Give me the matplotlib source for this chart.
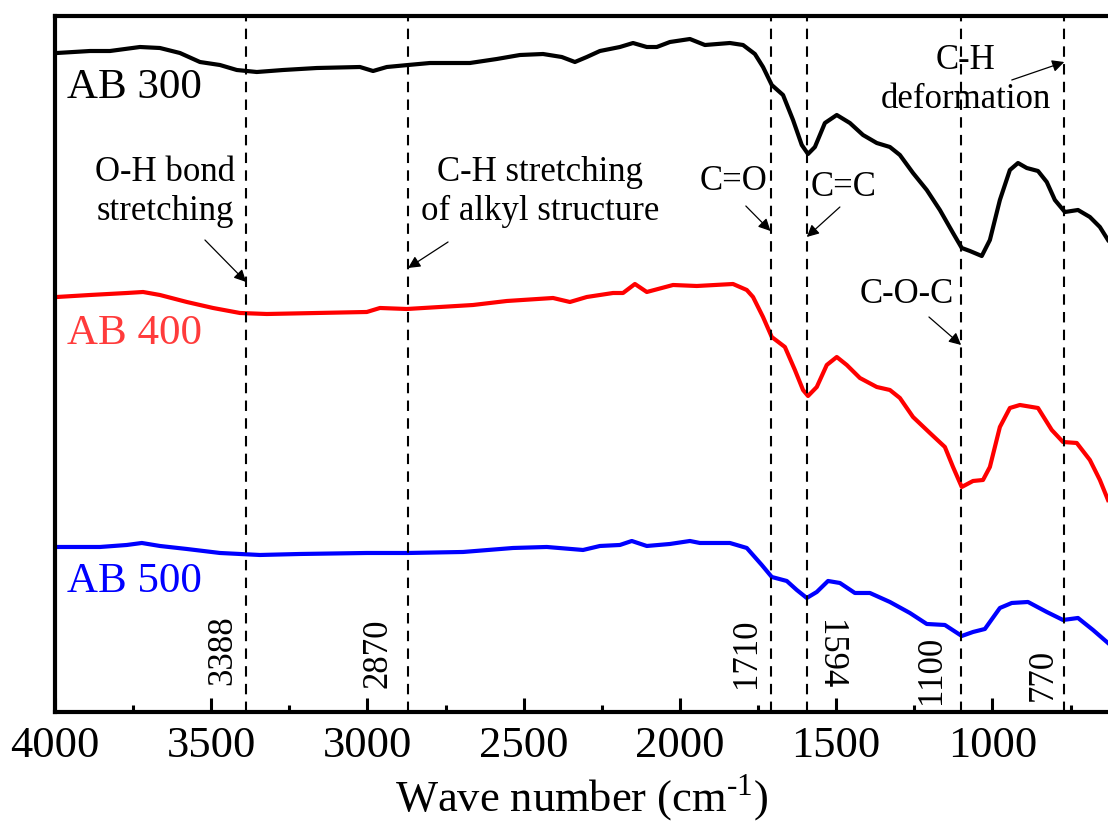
import numpy as np
import matplotlib
matplotlib.use('Agg')
import matplotlib.pyplot as plt
from matplotlib.ticker import MultipleLocator

plt.rcParams['font.family'] = ['Liberation Serif', 'DejaVu Serif']
plt.rcParams['mathtext.fontset'] = 'custom'
plt.rcParams['mathtext.rm'] = 'Liberation Serif'

# spectra (wave number, transmittance in a.u.)
wn_300 = [3994, 3888, 3824, 3728, 3664, 3600, 3536, 3472, 3418, 3354, 3270, 3162, 3024, 2982, 2938,
          2870, 2800, 2672, 2586, 2512, 2438, 2378, 2336, 2298, 2256, 2192, 2150, 2106, 2074, 2032,
          1968, 1920, 1840, 1798, 1760, 1734, 1706, 1670, 1638, 1610, 1590, 1568, 1536, 1498, 1456,
          1414, 1370, 1328, 1296, 1254, 1210, 1168, 1126, 1098, 1072, 1034, 1008, 976, 944, 918,
          890, 854, 826, 800, 768, 726, 688, 656, 630]
ab_300 = [659, 661, 661, 665, 664, 659, 650, 647, 642, 640, 642, 644, 645, 641, 645,
          647, 649, 649, 653, 657, 658, 655, 650, 655, 661, 665, 669, 665, 665, 670,
          673, 667, 669, 667, 658, 645, 627, 617, 592, 567, 558, 565, 589, 597, 589,
          577, 569, 565, 557, 539, 522, 502, 479, 464, 461, 456, 472, 512, 542, 549,
          544, 541, 530, 512, 500, 502, 495, 485, 472]

wn_400 = [3994, 3888, 3770, 3718, 3664, 3578, 3494, 3408, 3322, 3162, 3002, 2960, 2874, 2662, 2554,
          2406, 2352, 2298, 2214, 2182, 2144, 2106, 2022, 1946, 1830, 1786, 1766, 1734, 1706, 1664,
          1632, 1606, 1590, 1562, 1530, 1498, 1466, 1424, 1370, 1328, 1296, 1254, 1200, 1152, 1126,
          1098, 1062, 1030, 1008, 976, 944, 912, 854, 810, 774, 730, 688, 656, 630]
ab_400 = [415, 417, 419, 420, 417, 410, 404, 399, 398, 399, 400, 404, 403, 407, 411,
          414, 410, 415, 419, 419, 428, 420, 427, 426, 428, 422, 415, 395, 375, 365,
          342, 322, 316, 325, 347, 355, 347, 334, 325, 322, 314, 295, 279, 265, 245,
          225, 231, 232, 245, 285, 304, 307, 304, 282, 270, 269, 252, 232, 212]

wn_500 = [3994, 3856, 3770, 3722, 3664, 3578, 3472, 3344, 3216, 3002, 2870, 2694, 2534, 2426, 2310,
          2256, 2192, 2154, 2106, 2032, 1968, 1936, 1840, 1786, 1738, 1706, 1658, 1626, 1594, 1562,
          1526, 1488, 1440, 1392, 1328, 1264, 1210, 1152, 1098, 1062, 1024, 976, 938, 886, 826,
          774, 726, 678, 630]
ab_500 = [165, 165, 167, 169, 166, 163, 159, 157, 158, 159, 159, 160, 164, 165, 162,
          166, 167, 171, 166, 168, 171, 169, 169, 164, 147, 135, 131, 122, 114, 120,
          131, 129, 119, 119, 110, 99, 88, 87, 76, 80, 83, 104, 109, 110, 100,
          92, 94, 82, 69]

peaks = [3388, 2870, 1710, 1594, 1100, 770]
peak_labels = ['3388', '2870', '1710', '1594', '1100', '770']

fig = plt.figure(figsize=(11.08, 8.25), dpi=100)
ax = fig.add_axes([0.0496, 0.137, 0.9504, 0.8436])

ax.plot(wn_300, ab_300, color='black', lw=3)
ax.plot(wn_400, ab_400, color='#ff0000', lw=3)
ax.plot(wn_500, ab_500, color='#0000ff', lw=3)

for p in peaks:
    ax.axvline(p, color='black', lw=1.5, dashes=(5, 3.5))

# peak numbers along the bottom
ax.text(3462, 62, peak_labels[0], rotation=90, ha='center', va='center', fontsize=25)
ax.text(2966, 59, peak_labels[1], rotation=90, ha='center', va='center', fontsize=25)
ax.text(1786, 59, peak_labels[2], rotation=90, ha='center', va='center', fontsize=25)
ax.text(1520, 57, peak_labels[3], rotation=270, ha='center', va='center', fontsize=25)
ax.text(1194, 42, peak_labels[4], rotation=90, ha='center', va='center', fontsize=25)
ax.text(838, 37, peak_labels[5], rotation=90, ha='center', va='center', fontsize=25)

# sample names
ax.text(3962, 624, 'AB 300', color='black', ha='left', va='center', fontsize=31)
ax.text(3962, 378, 'AB 400', color='#ff3b3b', ha='left', va='center', fontsize=31)
ax.text(3962, 130, 'AB 500', color='#0000ff', ha='left', va='center', fontsize=31)

arrow = dict(arrowstyle='-|>', color='black', lw=0.9, mutation_scale=18, shrinkA=0, shrinkB=0)
ax.annotate('', xy=(3388, 430), xytext=(3520, 472), arrowprops=arrow)
ax.text(3648, 520, 'O-H bond\nstretching', ha='center', va='center', fontsize=25, linespacing=1.25)
ax.annotate('', xy=(2870, 444), xytext=(2742, 470), arrowprops=arrow)
ax.text(2448, 520, 'C-H stretching\nof alkyl structure', ha='center', va='center', fontsize=25, linespacing=1.25)
ax.annotate('', xy=(1710, 481), xytext=(1789, 506), arrowprops=arrow)
ax.text(1830, 530, 'C=O', ha='center', va='center', fontsize=25)
ax.annotate('', xy=(1594, 475), xytext=(1488, 505), arrowprops=arrow)
ax.text(1475, 524, 'C=C', ha='center', va='center', fontsize=25)
ax.annotate('', xy=(770, 650), xytext=(938, 632), arrowprops=arrow)
ax.text(1085, 632, 'C-H\ndeformation', ha='center', va='center', fontsize=25, linespacing=1.25)
ax.annotate('', xy=(1100, 367), xytext=(1203, 395), arrowprops=arrow)
ax.text(1274, 417, 'C-O-C', ha='center', va='center', fontsize=25)

ax.set_xlim(4000, 630)
ax.set_ylim(0, 696)
ax.xaxis.set_major_locator(MultipleLocator(500))
ax.xaxis.set_minor_locator(MultipleLocator(250))
ax.tick_params(axis='x', which='major', direction='in', length=10, width=2.2, labelsize=32, pad=10)
ax.tick_params(axis='x', which='minor', direction='in', length=5, width=2.2)
ax.set_yticks([])
ax.spines['right'].set_visible(False)
for s in ['left', 'top', 'bottom']:
    ax.spines[s].set_linewidth(3)
ax.set_xlabel('Wave number (cm$^{\\text{-1}}$)', fontsize=32, labelpad=5)

fig.savefig('out.png', dpi=100)
